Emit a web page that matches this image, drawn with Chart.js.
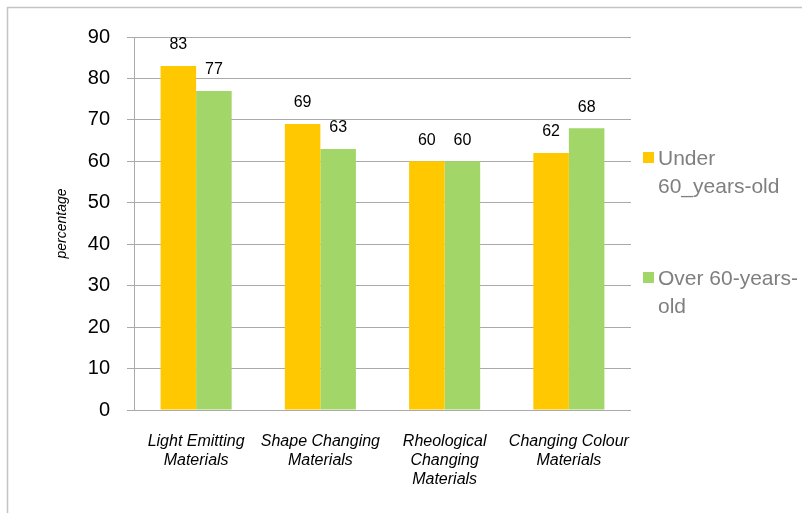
<!DOCTYPE html>
<html><head><meta charset="utf-8">
<script src="https://cdn.jsdelivr.net/npm/chart.js@4/dist/chart.umd.min.js"></script>
<style>html,body{margin:0;padding:0;background:#fff;}#wrap{position:relative;width:802px;height:513px;}</style>
</head><body><div id="wrap"><canvas id="c" width="802" height="513"></canvas></div>
<script>
const categories = [["Light Emitting","Materials"],["Shape Changing","Materials"],["Rheological","Changing","Materials"],["Changing Colour","Materials"]];
const seriesNames = ["Under 60_years-old","Over 60-years-old"];
const legendLines = [["Under","60_years-old"],["Over 60-years-","old"]];
const under60 = [83,69,60,62];
const over60 = [77,63,60,68];
const yMin = 0, yMax = 90, yStep = 10;
const yTitle = "percentage";
const colors = ["#FFC800","#A2D668"];

const FONT = "Arial, 'Liberation Sans', sans-serif";

const framePlugin = {
  id:'frame',
  beforeDraw(chart){
    const ctx = chart.ctx; ctx.save();
    ctx.strokeStyle = '#c4c4c4'; ctx.lineWidth = 1.5;
    ctx.strokeRect(7.5,7.5,900,600);
    ctx.restore();
  }
};
const labelPlugin = {
  id:'vals',
  afterDatasetsDraw(chart){
    const ctx = chart.ctx; ctx.save();
    ctx.font = "16px " + FONT; ctx.fillStyle = '#000';
    ctx.textAlign = 'center'; ctx.textBaseline = 'middle';
    chart.data.datasets.forEach((ds,i)=>{
      chart.getDatasetMeta(i).data.forEach((bar,j)=>{
        ctx.fillText(String(ds.data[j]), bar.x, bar.y - 21);
      });
    });
    ctx.restore();
  }
};
const legendPlugin = {
  id:'leg',
  afterDraw(chart){
    const ctx = chart.ctx; ctx.save();
    ctx.font = "21px " + FONT; ctx.textAlign='left'; ctx.textBaseline='middle';
    chart.data.datasets.forEach((ds,i)=>{
      const y0 = 159 + i*120;
      ctx.fillStyle = ds.backgroundColor;
      ctx.fillRect(643, y0-7, 11, 11);
      ctx.fillStyle = '#7f7f7f';
      legendLines[i].forEach((t,k)=> ctx.fillText(t, 658, y0 + k*28));
    });
    ctx.restore();
  }
};

new Chart(document.getElementById('c'), {
  type:'bar',
  data:{
    labels: categories,
    datasets:[
      {label: seriesNames[0], data: under60, backgroundColor: colors[0], borderWidth:0},
      {label: seriesNames[1], data: over60, backgroundColor: colors[1], borderWidth:0}
    ]
  },
  options:{
    responsive:false, animation:false, devicePixelRatio:1,
    categoryPercentage:0.572, barPercentage:1.0,
    layout:{padding:{top:37,right:171,bottom:0,left:0}},
    plugins:{legend:{display:false}, tooltip:{enabled:false}},
    scales:{
      x:{
        grid:{display:false, drawTicks:false},
        border:{display:false},
        ticks:{color:'#000', padding:22, maxRotation:0, autoSkip:false,
          font:{family:FONT, size:16, style:'italic', lineHeight:1.19}},
        afterFit(s){ s.height = 103; }
      },
      y:{
        min:yMin, max:yMax,
        grid:{color:'#aaaaaa', lineWidth:1, tickLength:7, drawTicks:true},
        border:{display:true, color:'#aaaaaa', width:1},
        ticks:{stepSize:yStep, color:'#000', padding:17, font:{family:FONT, size:20}},
        title:{display:true, text:yTitle, color:'#000', padding:{top:54,bottom:0},
          font:{family:FONT, size:14, style:'italic'}},
        afterFit(s){ s.width = 134; }
      }
    }
  },
  plugins:[framePlugin, labelPlugin, legendPlugin]
});
</script></body></html>
